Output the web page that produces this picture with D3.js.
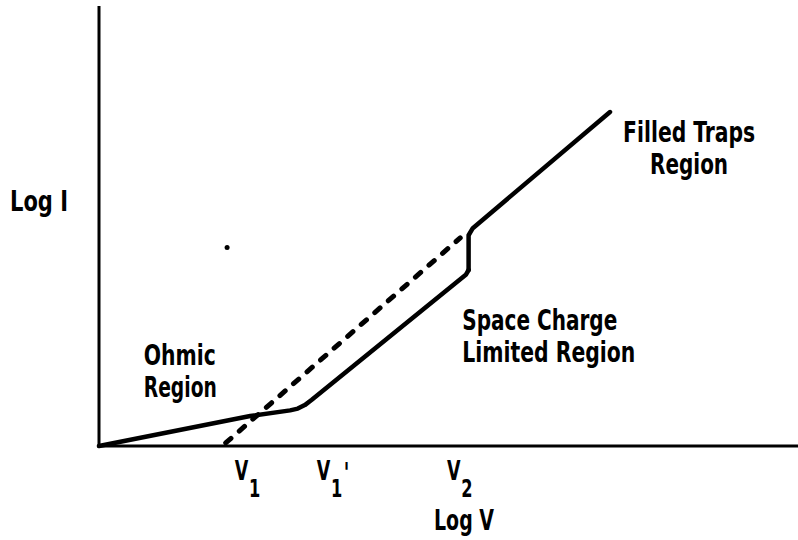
<!DOCTYPE html>
<html>
<head>
<meta charset="utf-8">
<script src="https://cdn.jsdelivr.net/npm/d3@7"></script>
<style>
  body { margin: 0; background: #fff; }
  text { font-family: "DejaVu Sans Condensed", "DejaVu Sans", sans-serif; font-weight: bold; fill: #000; }
</style>
</head>
<body>
<div class="chart"></div>
<script>
// log I vs log V, sketch units (0..100 on both axes)
const solidCurve = [
  [0, 0], [21.6, 6.8], [27.3, 8.1], [28.4, 8.5], [29.4, 9.3], [30.4, 10.5],
  [52.4, 38.9], [52.8, 40.0]
];
const filledTraps = [
  [52.8, 40.0], [52.8, 47.9], [53.4, 49.5], [73.0, 75.9]
];
const dashedLine = [[18.1, 0.7], [51.6, 47.3]];

const voltTicks = [
  {name: "V", sub: "1", prime: "", x: 19.4},
  {name: "V", sub: "1", prime: "'", x: 31.1},
  {name: "V", sub: "2", prime: "", x: 49.7}
];

// text, x, y (sketch units), width in px of the printed line
const regionLabels = [
  {lines: ["Ohmic", "Region"], widths: [72, 73], x: 6.4, y: 18.4, anchor: "start"},
  {lines: ["Space Charge", "Limited Region"], widths: [155, 173], x: 51.9, y: 26.4, anchor: "start"},
  {lines: ["Filled Traps", "Region"], widths: [132, 78], x: 84.3, y: 69.1, anchor: "middle"}
];

function draw(){
    const width = 798, height = 540;

    const svg = d3.select('.chart').append('svg')
        .attr("width", width)
        .attr("height", height);

    const xScale = d3.scaleLinear().domain([0, 100]).range([99, 799]);
    const yScale = d3.scaleLinear().domain([0, 100]).range([446, 6]);

    // axes (no ticks, just the two lines)
    svg.append("line")
        .attr("x1", xScale(0)).attr("x2", xScale(0))
        .attr("y1", yScale(0) + 1).attr("y2", yScale(100))
        .attr("stroke", "#000").attr("stroke-width", 3);
    svg.append("line")
        .attr("x1", xScale(0) - 1.5).attr("x2", xScale(100))
        .attr("y1", yScale(0)).attr("y2", yScale(0))
        .attr("stroke", "#000").attr("stroke-width", 3);

    const line = d3.line()
        .x(d => xScale(d[0]))
        .y(d => yScale(d[1]));

    svg.append("path")
        .attr("d", line(solidCurve))
        .attr("fill", "none").attr("stroke", "#000")
        .attr("stroke-width", 4.5).attr("stroke-linejoin", "round").attr("stroke-linecap", "round");

    svg.append("path")
        .attr("d", line(filledTraps))
        .attr("fill", "none").attr("stroke", "#000")
        .attr("stroke-width", 4.5).attr("stroke-linejoin", "round").attr("stroke-linecap", "round");

    svg.append("path")
        .attr("d", line(dashedLine))
        .attr("fill", "none").attr("stroke", "#000")
        .attr("stroke-width", 5).attr("stroke-linecap", "round")
        .attr("stroke-dasharray", "7,11");

    // stray dot from the original print
    svg.append("circle")
        .attr("cx", xScale(18.3)).attr("cy", yScale(45.1))
        .attr("r", 2.5).attr("fill", "#000");

    // voltage marks under the axis, squeezed to look condensed
    const vt = svg.selectAll(".vt")
        .data(voltTicks)
        .enter()
        .append("text")
        .attr("class", "vt")
        .attr("transform", d => `translate(${xScale(d.x)},480) scale(0.72,1)`)
        .style("font-size", "27px");
    vt.append("tspan").text(d => d.name);
    vt.append("tspan").attr("dx", 1).attr("dy", 17).style("font-size", "25px").text(d => d.sub);
    vt.append("tspan").attr("dx", 2).attr("dy", -14).style("font-size", "28px").text(d => d.prime);

    svg.append("text")
        .attr("x", 434).attr("y", 530)
        .attr("textLength", 60).attr("lengthAdjust", "spacingAndGlyphs")
        .style("font-size", "28px")
        .text("Log V");

    svg.append("text")
        .attr("x", 10).attr("y", 211)
        .attr("textLength", 58).attr("lengthAdjust", "spacingAndGlyphs")
        .style("font-size", "28px")
        .text("Log I");

    regionLabels.forEach(r => {
        r.lines.forEach((s, i) => {
            svg.append("text")
                .attr("x", xScale(r.x))
                .attr("y", yScale(r.y) + i * 32)
                .attr("text-anchor", r.anchor)
                .attr("textLength", r.widths[i])
                .attr("lengthAdjust", "spacingAndGlyphs")
                .style("font-size", "28px")
                .text(s);
        });
    });
}

draw();
</script>
</body>
</html>
